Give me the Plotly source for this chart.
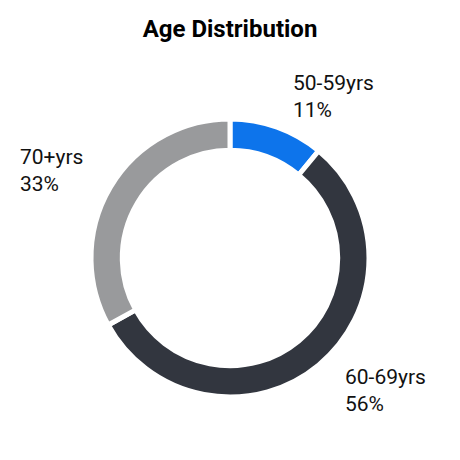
import math
import plotly.graph_objects as go

labels = ["50-59yrs", "60-69yrs", "70+yrs"]
shares = [11, 56, 33]
colors = ["#0D74EB", "#32363F", "#999A9C"]

W = H = 460
margin = dict(l=91, r=91, t=119, b=63)

fig = go.Figure(
    go.Pie(
        labels=labels,
        values=shares,
        hole=0.775,
        sort=False,
        direction="clockwise",
        rotation=0,
        marker=dict(colors=colors, line=dict(color="white", width=5)),
        textinfo="none",
        showlegend=False,
        hoverinfo="skip",
    )
)

# Pie geometry in pixels: centred in the plot area, radius = half the shorter side
plot_w = W - margin["l"] - margin["r"]
plot_h = H - margin["t"] - margin["b"]
cx = margin["l"] + plot_w / 2
cy = margin["t"] + plot_h / 2
radius = min(plot_w, plot_h) / 2
label_r = radius * 1.237

# Outside labels, left aligned, placed beyond each slice's mid-angle
total = sum(shares)
start = 90.0
for name, val in zip(labels, shares):
    sweep = 360.0 * val / total
    mid = math.radians(start - sweep / 2)
    start -= sweep
    px = cx + label_r * math.cos(mid)
    py = cy - label_r * math.sin(mid)
    right_side = math.cos(mid) >= 0
    fig.add_annotation(
        # paper coordinates span the plot area, not the whole figure
        x=(px - margin["l"]) / plot_w,
        y=(H - margin["b"] - py) / plot_h,
        xref="paper",
        yref="paper",
        text=f"{name}<br>{round(100 * val / total)}%",
        showarrow=False,
        align="left",
        xanchor="left" if right_side else "right",
        yanchor="middle",
        xshift=3,
        font=dict(family="Roboto", size=21, color="#111111"),
    )

fig.update_layout(
    width=W,
    height=H,
    paper_bgcolor="white",
    plot_bgcolor="white",
    margin=margin,
    title=dict(
        text="<b>Age Distribution</b>",
        x=0.5,
        xanchor="center",
        y=0.937,
        yanchor="middle",
        font=dict(family="Roboto", size=24, color="#000000"),
    ),
)

fig.write_html("out.html")
